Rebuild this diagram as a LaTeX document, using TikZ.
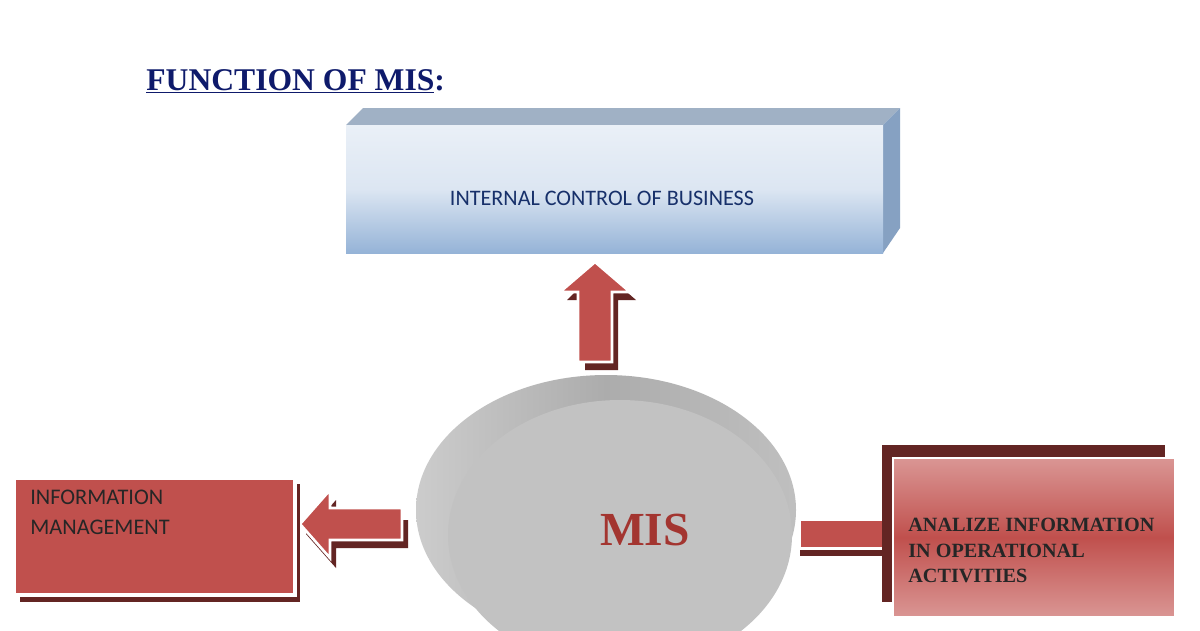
\documentclass[tikz,border=0pt]{standalone}
\usepackage{fontspec}
\setmainfont{Liberation Serif}
\newfontfamily\calib{Carlito}
\usetikzlibrary{shapes.geometric}
\definecolor{navy}{HTML}{0E1A6B}
\definecolor{bnavy}{HTML}{17306A}
\definecolor{redf}{HTML}{C0504D}
\definecolor{redd}{HTML}{632523}
\definecolor{pinkl}{HTML}{DA9694}
\definecolor{bluel}{HTML}{DCE6F2}
\definecolor{blued}{HTML}{95B3D7}
\definecolor{mistext}{HTML}{A33530}
\tikzset{
  redbox/.style={fill=redf, draw=white, line width=2pt},
  arrowshape/.style={fill=redf, draw=white, line width=1.5pt},
}
\begin{document}
\begin{tikzpicture}[x=0.02cm,y=-0.02cm]
\useasboundingbox (0,0) rectangle (1200,630);
\fill[white] (0,0) rectangle (1200,630);
% title
\node[anchor=base west, inner sep=0, font=\bfseries\fontsize{18}{20}\selectfont, text=navy] (title) at (146,90) {\underline{FUNCTION OF MIS}:};
% blue 3D box
\fill[blued!80!black!70] (346,125) -- (363,108) -- (900,108) -- (883,125) -- cycle;
\fill[blued!90!black] (883,125) -- (900,108) -- (900,228) -- (883,253) -- cycle;
\shade[top color=bluel!60, bottom color=blued, middle color=bluel] (346,125) rectangle (883,253);
\node[font=\calib\fontsize{12.6}{14}\selectfont, text=bnavy] (ctrl) at (602,198) {INTERNAL CONTROL OF BUSINESS};
% up arrow
\fill[redd] (585,370) -- (585,300) -- (567,300) -- (599,268) -- (636,300) -- (618,300) -- (618,370) -- cycle;
\draw[arrowshape] (578,362) -- (578,292) -- (560,292) -- (595,262) -- (630,292) -- (612,292) -- (612,362) -- cycle;
% MIS disc
\shade[left color=gray!40, right color=gray!50, middle color=gray!65] (606,510) ellipse (190 and 135);
\fill[gray!48] (620,535) ellipse (172 and 135);
\node[font=\bfseries\fontsize{27}{30}\selectfont, text=mistext] (mis) at (645,530) {MIS};
% left arrow
\fill[redd] (408,548) -- (336,548) -- (336,568) -- (306,534) -- (336,500) -- (336,520) -- (408,520) -- cycle;
\draw[arrowshape] (402,540) -- (330,540) -- (330,558) -- (300,524) -- (330,490) -- (330,508) -- (402,508) -- cycle;
% left box
\fill[redd] (20,484) rectangle (300,602);
\draw[redbox] (14,478) rectangle (295,595);
\node[anchor=north west, align=left, font=\calib\fontsize{12.7}{17}\selectfont, text=black!85, inner sep=0] (info) at (30,490) {INFORMATION\\MANAGEMENT};
% right arrow
\fill[redd] (800,550) rectangle (885,556);
\draw[arrowshape] (800,520) rectangle (888,548);
% right box
\fill[redd] (882,445) rectangle (1165,602);
\shade[top color=pinkl, bottom color=pinkl, middle color=redf] (893,458) rectangle (1175,617);
\draw[white, line width=1.5pt] (893,458) rectangle (1175,617);
\node[anchor=north west, align=left, font=\bfseries\fontsize{11.5}{14.5}\selectfont, text=black!85, inner sep=0] (anal) at (908,518) {ANALIZE INFORMATION\\IN OPERATIONAL\\ACTIVITIES};
\end{tikzpicture}
\end{document}
